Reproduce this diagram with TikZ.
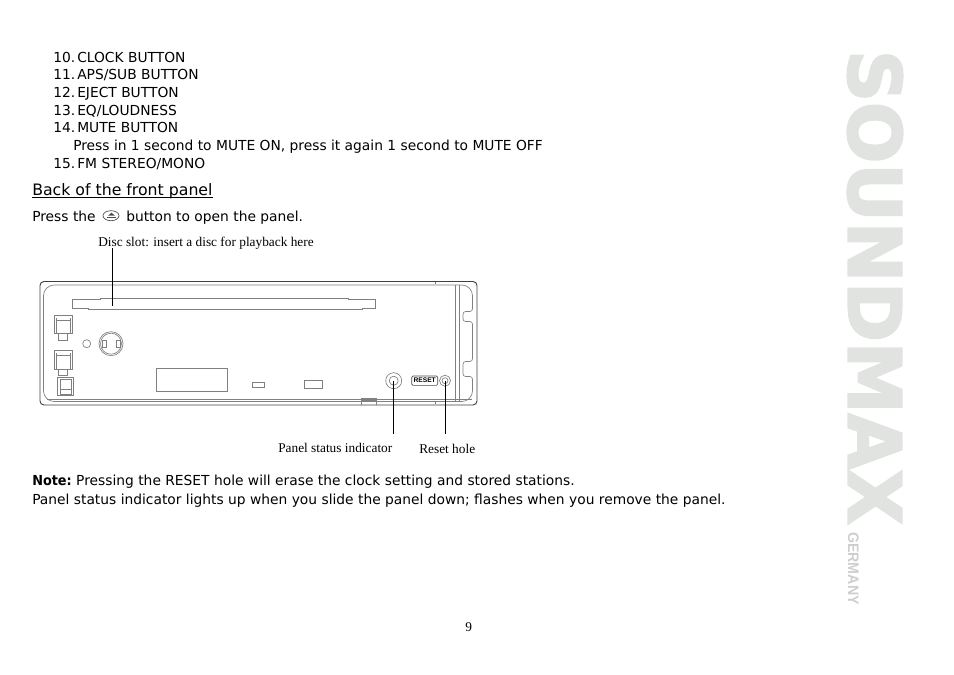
\documentclass[tikz,border=0pt]{standalone}
\usepackage{fontspec}
\usepackage{graphicx}
\setmainfont{DejaVu Sans}
\newfontfamily\seriffont{Liberation Serif}
\newfontfamily\logofont{Liberation Sans}
\newfontfamily\logoheavy[BoldFeatures={FakeBold=3}]{DejaVu Sans}
\usetikzlibrary{shapes.geometric}
\definecolor{LogoGray}{HTML}{E1E3E1}
\definecolor{LogoDark}{HTML}{CDCFCD}
\definecolor{PartGray}{HTML}{808080}
\begin{document}
\begin{tikzpicture}[x=0.75pt,y=-0.75pt]
		\tikzset{body/.style = {anchor = base west,inner sep = 0pt,font = \fontsize{10.36}{12}\selectfont}}
		\tikzset{callout/.style = {anchor = base west,inner sep = 0pt,font = \seriffont\fontsize{10}{12}\selectfont}}
		\tikzset{part/.style = {PartGray,line width = 0.5pt}}
		\tikzset{shell/.style = {black!75,line width = 0.7pt}}
		\tikzset{leader/.style = {black,line width = 0.6pt}}
		\useasboundingbox (0,0) rectangle (954,675);
		% list
		\foreach \num/\txt/\ypos in {10/CLOCK BUTTON/62,11/APS\slash SUB BUTTON/79,12/EJECT BUTTON/97,13/EQ\slash LOUDNESS/115,14/MUTE BUTTON/132,15/FM STEREO\slash MONO/168}{
			\node[body] (num\num) at (53,\ypos){\num.};
			\node[body] (item\num) at (77,\ypos){\txt};
		}
		\node[body] (mute) at (73,150){Press in 1 second to MUTE ON, press it again 1 second to MUTE OFF};
		\node[body,font = \fontsize{11.8}{14}\selectfont] (head) at (32,195){Back of the front panel};
		\draw[black,line width = 0.6pt] ([yshift=-1.5pt]head.base west) -- ([yshift=-1.5pt]head.base east);
		\node[body] (press) at (32,221){Press the};
		\node[body] (open) at (126,221){button to open the panel.};
		\node[draw,ellipse,part,black!70,minimum width = 12pt,minimum height = 7.5pt,inner sep = 0pt] (eject) at (111,215.7){};
		\fill[black!70] (108,215.7) -- (111.5,212.7) -- (115,215.7) -- cycle;
		\draw[black!70,line width = 0.6pt] (107,217) -- (115.5,217);
		% panel
		\draw[shell,rounded corners = 3] (40,281.5) rectangle (477,405);
		\draw[part] (43.5,340) [rounded corners = 8] -- (43.5,285) -- (472.5,285) [rounded corners = 2] -- (472.5,311.5) -- (463,311.5) -- (463,321.5) -- (472.5,321.5) -- (472.5,361.5) -- (463,361.5) -- (463,376.5) -- (472.5,376.5) [rounded corners = 8] -- (472.5,401.5) -- (43.5,401.5) -- cycle;
		\draw[part] (47,399.5) -- (472,399.5);
		\draw[part] (455,285) -- (455,401.5);
		\draw[part] (459,285) -- (459,401.5);
		\draw[part] (72.5,299.5) -- (100,299.5) -- (100,298.5) -- (348,298.5) -- (348,299) -- (375.7,299) -- (375.7,308.5) -- (362,308.5) -- (362,309.5) -- (88,309.5) -- (88,308) -- (72.5,308) -- cycle;
		\foreach \ytop/\ybot/\yend in {315/333/340.5,350/369/375}{
			\draw[part] (54,\ytop) rectangle (72.7,\ybot);
			\draw[part] (56,\ytop+3) -- (56,\ybot);
			\draw[part] (70.7,\ytop+3) -- (70.7,\ybot);
			\draw[part] (56,\ytop+5) -- (70.7,\ytop+5);
			\draw[part] (58.3,\ybot) -- (58.3,\yend) -- (67.3,\yend) -- (67.3,\ybot);
		}
		\draw[part] (57.3,377.3) rectangle (73.7,395.7);
		\draw[part] (60,379) rectangle (71.7,394);
		\draw[part] (60,389) -- (71.7,389);
		\draw[part] (86.7,343.7) circle (4);
		\draw[part] (111,343.7) circle (12);
		\draw[part] (111,343.7) circle (10.5);
		\draw[part] (102.7,340.7) rectangle (106,347.3);
		\draw[part] (116.7,340.7) rectangle (120,347.3);
		\draw[part] (156.3,368.3) rectangle (227.7,391.7);
		\draw[part] (252.3,382.3) rectangle (264.7,387.3);
		\draw[part] (304.7,380) rectangle (322,388.3);
		\draw[part] (361.7,405) -- (361.7,398.3) -- (376.3,398.3) -- (376.3,405);
		\draw[part] (361.7,400.5) -- (376.3,400.5);
		\draw[part] (435,282) -- (435,284);
		\draw[part] (435,402) -- (435,404);
		\draw[part] (393.7,380.7) circle (8);
		\draw[part] (393.7,380.7) circle (4.5);
		\draw[part] (445,380.7) circle (5.5);
		\draw[part] (445,380.7) circle (3);
		\node[draw = black!70,rounded corners = 1,minimum width = 19.5pt,minimum height = 7pt,inner sep = 0pt,line width = 0.5pt,font = \logofont\bfseries\fontsize{5}{5}\selectfont] (resetbox) at (424.7,380.7){RESET};
		% callouts
		\node[callout] (slot) at (98,246){Disc slot: insert a disc for playback here};
		\node[callout] (status) at (278,452){Panel status indicator};
		\node[callout] (hole) at (419,453){Reset hole};
		\coordinate (slotend) at (112,306);
		\coordinate (statusend) at (393.7,381);
		\coordinate (holeend) at (445,381);
		\coordinate (slottop) at (112,248);
		\coordinate (statusfoot) at (393.7,434);
		\coordinate (holefoot) at (445,434);
		\draw[leader] (slottop) -- (slotend);
		\draw[leader] (statusfoot) -- (statusend);
		\draw[leader] (holefoot) -- (holeend);
		% notes
		\node[body] (note) at (32,485){\scalebox{0.93}[1]{\textbf{Note:}} Pressing the RESET hole will erase the clock setting and stored stations.};
		\node[body] (lights) at (32,504){Panel status indicator lights up when you slide the panel down; flashes when you remove the panel.};
		\node[callout] (page) at (465,631){9};
		% logo
		\node[rotate = -90,inner sep = 0pt,LogoGray] (logo) at (875,287.5){\resizebox{356pt}{40.5pt}{\logoheavy\bfseries SOUNDMAX}};
		\node[rotate = -90,inner sep = 0pt,LogoDark] (germany) at (853.5,568.5){\resizebox{54.5pt}{8pt}{\logofont\bfseries GERMANY}};
	\end{tikzpicture}
\end{document}
